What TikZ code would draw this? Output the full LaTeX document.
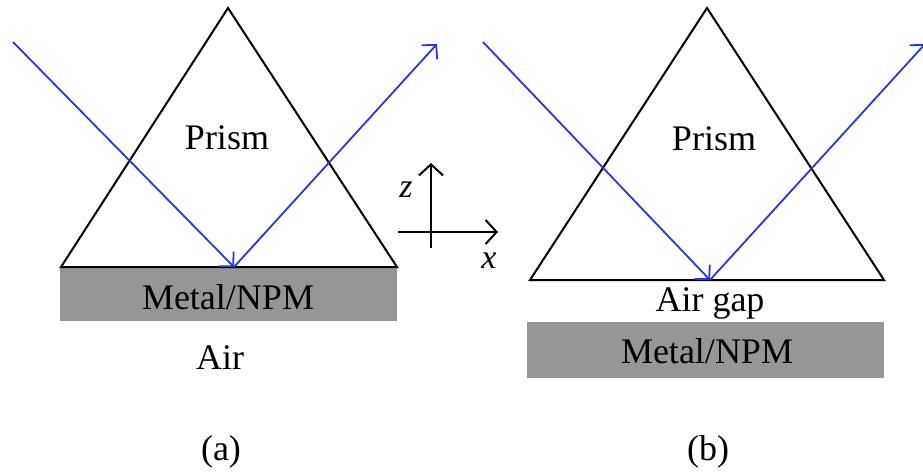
\documentclass[tikz,border=0pt]{standalone}
\usepackage{fontspec}
\setmainfont{Liberation Serif}
\usetikzlibrary{arrows.meta}
\definecolor{raybl}{RGB}{40,55,215}
\definecolor{metalgr}{RGB}{150,150,150}
\begin{document}
\begin{tikzpicture}[x=1pt,y=-1pt,
  lbl/.style={font=\fontsize{36}{40}\selectfont, inner sep=0pt, anchor=base},
  axlbl/.style={font=\fontsize{34}{40}\selectfont\itshape, inner sep=0pt, anchor=base},
  prismline/.style={draw=black, line width=2pt, line join=miter},
  metal/.style={fill=metalgr},
  ray/.style={draw=raybl, line width=1.8pt, -{Straight Barb[length=10pt,width=21pt,line width=1.8pt]}},
  axisarrow/.style={draw=black, line width=2pt, -{Straight Barb[length=11pt,width=24pt,line width=2pt]}}
]
\useasboundingbox (0,0) rectangle (923,472);
\begin{scope}
\clip (0,0) rectangle (923,472);
% ---------- (a) ----------
\fill[metal] (60,267) rectangle (397,321);
\coordinate (LA) at (228,8);
\coordinate (LL) at (61,267);
\coordinate (LR) at (397,267);
\draw[prismline] (LL) -- (LA) -- (LR) -- cycle;
\coordinate (Lin) at (13,42);
\coordinate (Lhit) at (234,267);
\coordinate (Lout) at (437,44);
\draw[ray] (Lin) -- (Lhit);
\draw[ray] (Lhit) -- (Lout);
\node[lbl] (prismA) at (227,149) {Prism};
\node[lbl] (metalA) at (228,309) {Metal/NPM};
\node[lbl] (airA) at (220,369) {Air};
\node[lbl] (capA) at (221,460) {(a)};
% ---------- axes ----------
\coordinate (zb) at (431,248);
\coordinate (zt) at (431,163);
\coordinate (xl) at (398,232);
\coordinate (xr) at (498,232);
\draw[axisarrow] (zb) -- (zt);
\draw[axisarrow] (xl) -- (xr);
\node[axlbl] (zlab) at (406,197) {z};
\node[axlbl] (xlab) at (489,268) {x};
% ---------- (b) ----------
\fill[metal] (527,322) rectangle (884,378);
\coordinate (RA) at (707,8);
\coordinate (RL) at (530,280);
\coordinate (RR) at (884,280);
\draw[prismline] (RL) -- (RA) -- (RR) -- cycle;
\coordinate (Rin) at (483,42);
\coordinate (Rhit) at (710,280);
\coordinate (Rout) at (925,44);
\draw[ray] (Rin) -- (Rhit);
\draw[ray] (Rhit) -- (Rout);
\node[lbl] (prismB) at (714,150) {Prism};
\node[lbl] (gapB) at (710,311) {Air gap};
\node[lbl] (metalB) at (707,363) {Metal/NPM};
\node[lbl] (capB) at (708,460) {(b)};
\end{scope}
\end{tikzpicture}
\end{document}
